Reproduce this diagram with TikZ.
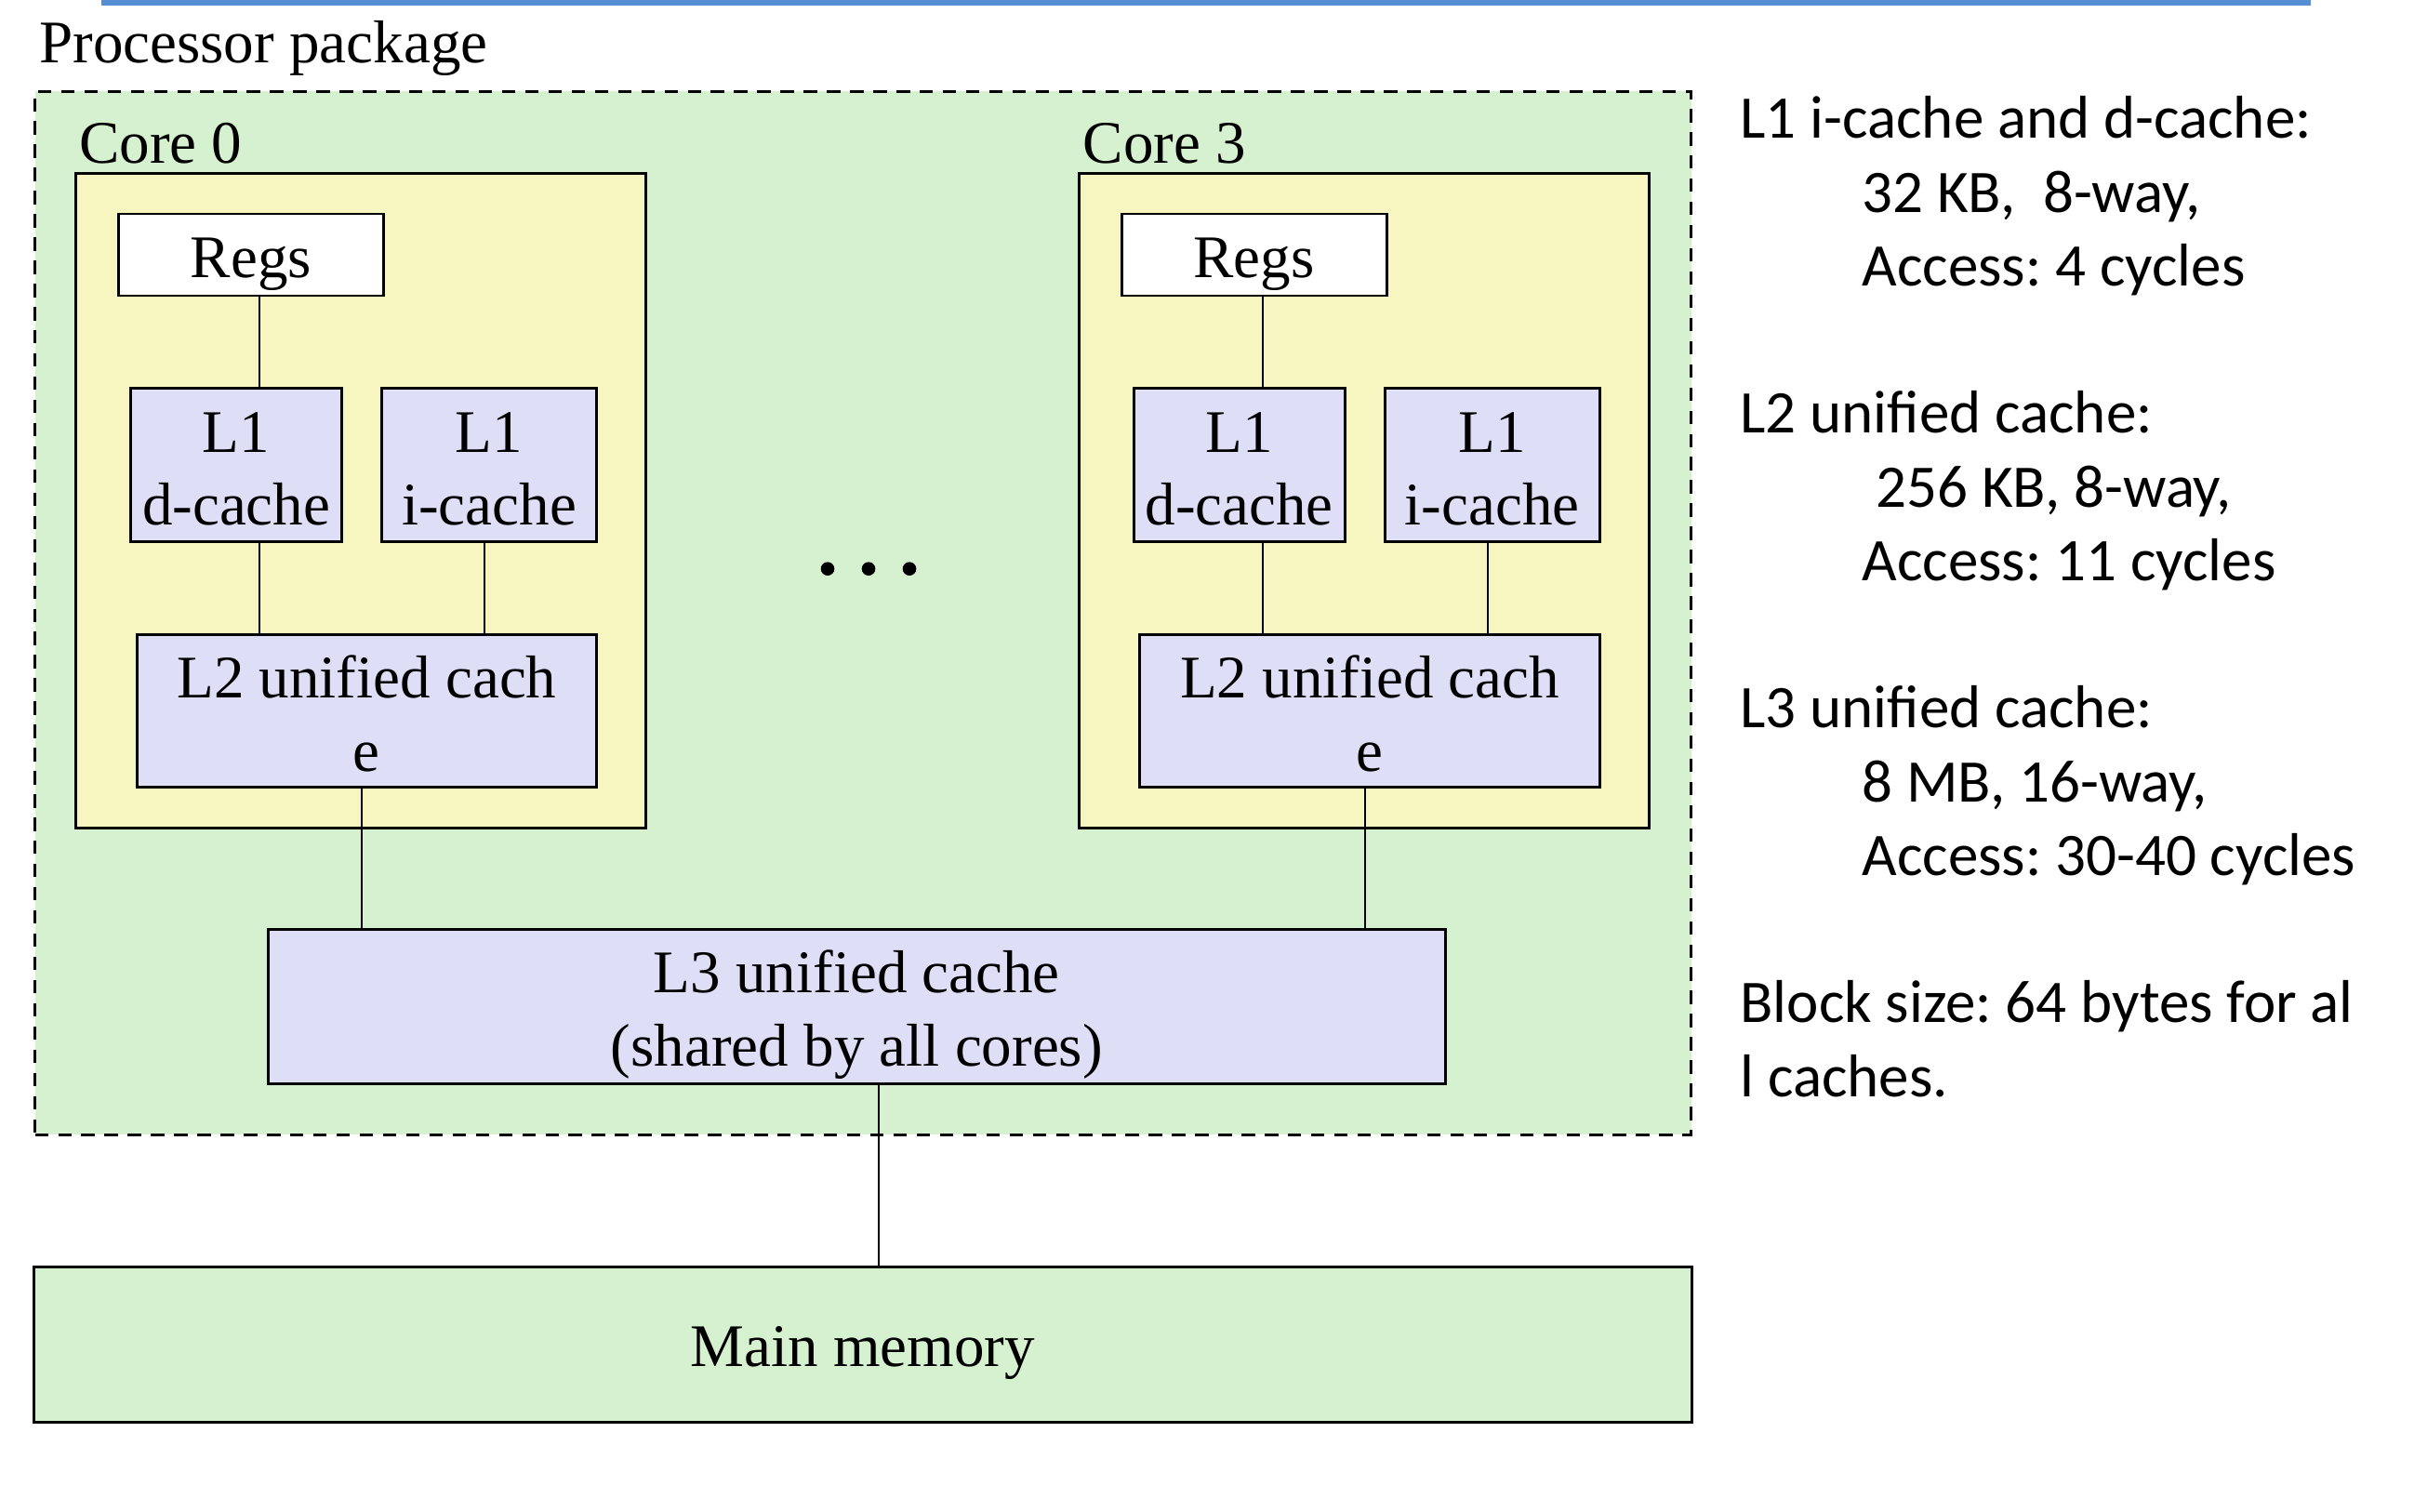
\documentclass[tikz,border=0pt]{standalone}
\usepackage{fontspec}
\setmainfont{Liberation Serif}
\newfontfamily\specfont{Carlito}
\usepackage{xcolor}
\usetikzlibrary{positioning}
\definecolor{pkggreen}{RGB}{214,241,208}
\definecolor{coreyellow}{RGB}{247,246,192}
\definecolor{cachelilac}{RGB}{222,222,246}
\definecolor{slideblue}{RGB}{85,142,213}
\newcommand{\boxfont}{\fontsize{18.5}{22.4}\selectfont}
\newcommand{\coreshift}{10.786cm}
\newcommand{\lift}[1]{\rule{0pt}{#1}}
\frenchspacing

\begin{document}
\begin{tikzpicture}[
		outline/.style = {
			rectangle, draw, line width=0.85pt, inner sep=0pt
		},
		package/.style = {
			outline, dash pattern=on 4.1pt off 3pt, fill=pkggreen,
			minimum width=17.81cm, minimum height=11.22cm
		},
		core/.style = {
			outline, fill=coreyellow,
			minimum width=6.13cm, minimum height=7.04cm
		},
		regs/.style = {
			outline, fill=white, font=\boxfont,
			text height=18.2pt, text depth=4pt,
			minimum width=2.85cm, minimum height=0.88cm
		},
		cache/.style = {
			outline, fill=cachelilac, align=center, font=\boxfont
		},
		link/.style = {line width=0.6pt},
		caption/.style = {inner sep=0pt, font=\boxfont, anchor=base west}
	]
	\useasboundingbox (0,0) rectangle (25.96,-16.26);
	% slide rule at the top edge
	\draw[slideblue, line width=1.7pt] (1.093,-0.03) -- (24.85,-0.03);

	\node[package] (pkg) at (9.2805,-6.5925) {};
	\node[caption] (pkglabel) at ([shift={(0.056,0.29)}]pkg.north west)
		{Processor package};

	% core 0
	\node[core] (core0) at (3.88,-5.3865) {};
	\node[caption] (core0label) at ([shift={(0.046,0.095)}]core0.north west)
		{Core 0};
	\node[regs] (regs0) at (2.699,-2.740) {Regs};
	\node[cache, minimum width=2.268cm, minimum height=1.656cm] (dc0)
		at (2.541,-5.000) {\lift{14.7pt}L1\\d-cache};
	\node[cache, minimum width=2.308cm, minimum height=1.656cm] (ic0)
		at (5.260,-5.000) {\lift{14.7pt}L1\\i-cache};
	\node[cache, minimum width=4.941cm, minimum height=1.649cm] (l2c0)
		at (3.944,-7.645) {\lift{14.6pt}L2 unified cach\\e};

	% core 3
	\node[core] (core3) at ([xshift=\coreshift]core0) {};
	\node[caption] (core3label) at ([shift={(0.054,0.095)}]core3.north west)
		{Core 3};
	\node[regs] (regs3) at ([xshift=\coreshift]regs0) {Regs};
	\node[cache, minimum width=2.268cm, minimum height=1.656cm] (dc3)
		at ([xshift=\coreshift]dc0) {\lift{14.7pt}L1\\d-cache};
	\node[cache, minimum width=2.308cm, minimum height=1.656cm] (ic3)
		at ([xshift=\coreshift]ic0) {\lift{14.7pt}L1\\i-cache};
	\node[cache, minimum width=4.941cm, minimum height=1.649cm] (l2c3)
		at ([xshift=\coreshift]l2c0) {\lift{14.6pt}L2 unified cach\\e};

	\fill (8.90,-6.117) circle (0.073);
	\fill (9.34,-6.117) circle (0.073);
	\fill (9.78,-6.117) circle (0.073);

	\node[cache, minimum width=12.665cm, minimum height=1.656cm] (l3c)
		at (9.2135,-10.823) {\lift{18.2pt}L3 unified cache\\(shared by all cores)};
	\node[outline, fill=pkggreen, font=\boxfont,
		text height=17.4pt, text depth=4pt,
		minimum width=17.831cm, minimum height=1.665cm] (mem)
		at (9.2795,-14.458) {Main memory};

	\coordinate (tap0) at ([xshift=0.25cm]dc0.north);
	\coordinate (tap3) at ([xshift=0.25cm]dc3.north);
	\coordinate (itap0) at ([xshift=-0.05cm]ic0.south);
	\coordinate (itap3) at ([xshift=-0.05cm]ic3.south);
	\coordinate (l2tap0) at ([xshift=-0.05cm]l2c0.south);
	\coordinate (l2tap3) at ([xshift=-0.05cm]l2c3.south);
	\coordinate (memtap) at ([xshift=0.24cm]l3c.south);
	\draw[link] (tap0) -- (tap0 |- regs0.south);
	\draw[link] (tap0 |- dc0.south) -- (tap0 |- l2c0.north);
	\draw[link] (itap0) -- (itap0 |- l2c0.north);
	\draw[link] (l2tap0) -- (l2tap0 |- l3c.north);
	\draw[link] (tap3) -- (tap3 |- regs3.south);
	\draw[link] (tap3 |- dc3.south) -- (tap3 |- l2c3.north);
	\draw[link] (itap3) -- (itap3 |- l2c3.north);
	\draw[link] (l2tap3) -- (l2tap3 |- l3c.north);
	\draw[link] (memtap) -- (memtap |- mem.north);

	% cache parameters
	\node[inner sep=0pt, anchor=north west, align=left,
		font=\specfont\fontsize{18.5}{22.55}\selectfont] (specs) at (18.708,-1.03)
		{L1 i-cache and d-cache:\\
		\hspace*{1.31cm}32 KB,\ \ 8-way,\\
		\hspace*{1.31cm}Access: 4 cycles\\[22.55pt]
		L2 unified cache:\\
		\hspace*{1.46cm}256 KB, 8-way,\\
		\hspace*{1.31cm}Access: 11 cycles\\[22.55pt]
		L3 unified cache:\\
		\hspace*{1.31cm}8 MB, 16-way,\\
		\hspace*{1.31cm}Access: 30-40 cycles\\[22.55pt]
		Block size: 64 bytes for al\\
		l caches.};
\end{tikzpicture}
\end{document}
